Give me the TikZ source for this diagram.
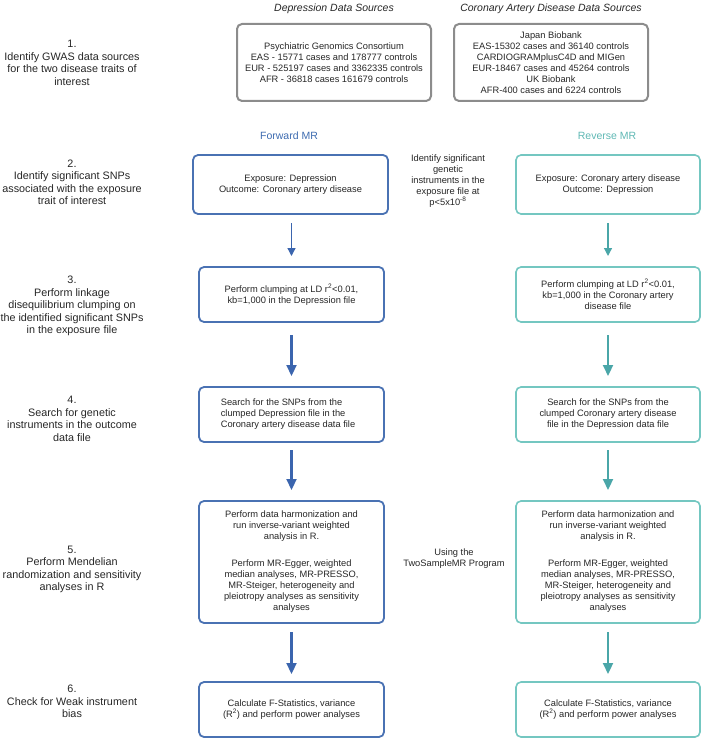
\documentclass[tikz,border=0pt]{standalone}
\usepackage{fontspec}
\setmainfont{Liberation Sans}
\usetikzlibrary{arrows.meta}
\definecolor{fwd}{HTML}{4A72B3}
\definecolor{fwdarr}{HTML}{3B65AE}
\definecolor{rev}{HTML}{74C7C1}
\definecolor{revarr}{HTML}{4AA6A8}
\definecolor{graybox}{HTML}{8C8C8C}
\definecolor{txt}{HTML}{262626}
\definecolor{fwdtxt}{HTML}{3D6BB0}
\definecolor{revtxt}{HTML}{5FB8B4}
\tikzset{
  box/.style={draw, rounded corners=5pt, align=center, inner sep=0pt, outer sep=0pt,
    font=\fontsize{9.3}{11}\selectfont, text=txt},
  fbox/.style={box, draw=fwd, line width=1.8pt, minimum width=185pt},
  rbox/.style={box, draw=rev, line width=1.6pt, minimum width=184pt},
  gbox/.style={box, draw=graybox, line width=2pt, minimum width=194pt, minimum height=77pt},
  lab/.style={align=center, font=\fontsize{10.8}{12.5}\selectfont, text=txt, inner sep=0pt},
  mid/.style={align=center, font=\fontsize{9.3}{11}\selectfont, text=txt, inner sep=0pt},
  hdr/.style={font=\fontsize{10.5}{12}\selectfont\itshape, text=txt, inner sep=0pt},
  mrhdr/.style={font=\fontsize{10.5}{12}\selectfont, inner sep=0pt},
  thinarr/.style={-{Triangle[length=8pt,width=8pt]}, line width=1.3pt},
  thickarr/.style={-{Triangle[length=11pt,width=10pt]}, line width=2.2pt},
}
\begin{document}
\begin{tikzpicture}[x=1pt,y=-1pt]
\useasboundingbox (0,0) rectangle (709,743);

% headers
\node[hdr] (hdep) at (334,9) {Depression Data Sources};
\node[hdr] (hcad) at (551,9) {Coronary Artery Disease Data Sources};

% top boxes
\node[gbox] (dep) at (334,62.5) {Psychiatric Genomics Consortium\\EAS - 15771 cases and 178777 controls\\EUR - 525197 cases and 3362335 controls\\AFR - 36818 cases 161679 controls};
\node[gbox] (cad) at (551,62.5) {Japan Biobank\\EAS-15302 cases and 36140 controls\\CARDIOGRAMplusC4D and MIGen\\EUR-18467 cases and 45264 controls\\UK Biobank\\AFR-400 cases and 6224 controls};

% step labels
\node[lab] (l1) at (72,63) {1.\\Identify GWAS data sources\\for the two disease traits of\\interest};
\node[lab] (l2) at (72,182.5) {2.\\Identify significant SNPs\\associated with the exposure\\trait of interest};
\node[lab] (l3) at (72,306) {3.\\Perform linkage\\disequilibrium clumping on\\the identified significant SNPs\\in the exposure file};
\node[lab] (l4) at (72,419) {4.\\Search for genetic\\instruments in the outcome\\data file};
\node[lab] (l5) at (72,569.5) {5.\\Perform Mendelian\\randomization and sensitivity\\analyses in R};
\node[lab] (l6) at (72,701.5) {6.\\Check for Weak instrument\\bias};

% MR headers
\node[mrhdr, text=fwdtxt] (hf) at (289,136) {Forward MR};
\node[mrhdr, text=revtxt] (hr) at (607,136) {Reverse MR};

% middle texts
\node[mid] (m1) at (448,181) {Identify significant\\genetic\\instruments in the\\exposure file at\\p<5x10\textsuperscript{-8}};
\node[mid] (m2) at (454,559) {Using the\\TwoSampleMR Program};

% forward boxes
\node[fbox, minimum width=195pt, minimum height=59pt] (f2) at (290.5,184.5) {Exposure: Depression\\Outcome: Coronary artery disease};
\node[fbox, minimum height=55pt] (f3) at (291.5,294.5) {Perform clumping at LD r\textsuperscript{2}<0.01,\\kb=1,000 in the Depression file};
\node[fbox, minimum height=55pt] (f4) at (291.5,414.5) {};
\node[box, draw=none, align=left] (f4t) at (288,414.5) {Search for the SNPs from the\\clumped Depression file in the\\Coronary artery disease data file};
\node[fbox, minimum height=122pt] (f5) at (291.5,562) {Perform data harmonization and\\run inverse-variant weighted\\analysis in R.\\[16pt]Perform MR-Egger, weighted\\median analyses, MR-PRESSO,\\MR-Steiger, heterogeneity and\\pleiotropy analyses as sensitivity\\analyses};
\node[fbox, minimum height=55pt] (f6) at (291.5,709.5) {Calculate F-Statistics, variance\\(R\textsuperscript{2}) and perform power analyses};

% reverse boxes
\node[rbox, minimum height=59pt] (r2) at (608,184.5) {Exposure: Coronary artery disease\\Outcome: Depression};
\node[rbox, minimum height=55pt] (r3) at (608,294.5) {Perform clumping at LD r\textsuperscript{2}<0.01,\\kb=1,000 in the Coronary artery\\disease file};
\node[rbox, minimum height=55pt] (r4) at (608,414.5) {Search for the SNPs from the\\clumped Coronary artery disease\\file in the Depression data file};
\node[rbox, minimum height=122pt] (r5) at (608,562) {Perform data harmonization and\\run inverse-variant weighted\\analysis in R.\\[16pt]Perform MR-Egger, weighted\\median analyses, MR-PRESSO,\\MR-Steiger, heterogeneity and\\pleiotropy analyses as sensitivity\\analyses};
\node[rbox, minimum height=55pt] (r6) at (608,709.5) {Calculate F-Statistics, variance\\(R\textsuperscript{2}) and perform power analyses};

% forward arrows
\draw[thinarr, fwdarr, shorten <=9pt, shorten >=11pt] (f3.north |- f2.south) -- (f3.north);
\draw[thickarr, fwdarr, shorten <=13pt, shorten >=11pt] (f3.south) -- (f4.north);
\draw[thickarr, fwdarr, shorten <=8pt, shorten >=11pt] (f4.south) -- (f5.north);
\draw[thickarr, fwdarr, shorten <=9pt, shorten >=8pt] (f5.south) -- (f6.north);

% reverse arrows
\draw[thinarr, revarr, shorten <=9pt, shorten >=11pt] (r2.south) -- (r3.north);
\draw[thickarr, revarr, shorten <=13pt, shorten >=11pt] (r3.south) -- (r4.north);
\draw[thickarr, revarr, shorten <=8pt, shorten >=11pt] (r4.south) -- (r5.north);
\draw[thickarr, revarr, shorten <=9pt, shorten >=8pt] (r5.south) -- (r6.north);
\end{tikzpicture}
\end{document}
